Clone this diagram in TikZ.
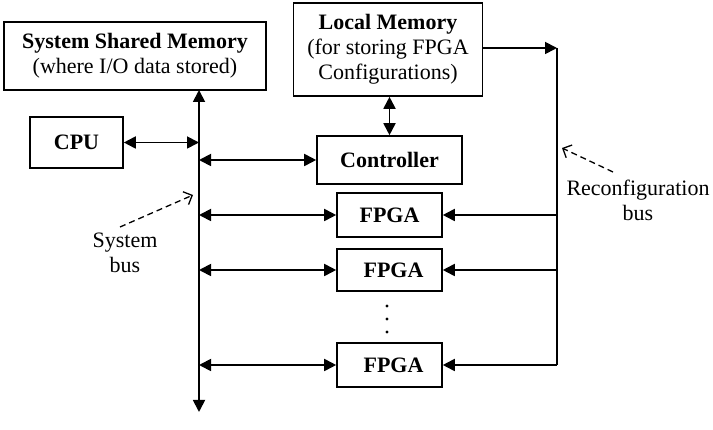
\documentclass[tikz,border=0pt]{standalone}
\usepackage{fontspec}
\setmainfont{Liberation Serif}
\usetikzlibrary{arrows.meta}
\begin{document}
\begin{tikzpicture}[x=1pt,y=-1pt,
  box/.style={draw, line width=1.6pt, inner sep=0pt, align=center,
    font=\fontsize{22}{25}\selectfont},
  lbl/.style={align=center, font=\fontsize{22}{25}\selectfont},
  conn/.style={line width=1.8pt},
  bi/.style={conn, {Triangle[length=12pt,width=12pt]}-{Triangle[length=12pt,width=12pt]}},
  uni/.style={conn, -{Triangle[length=12pt,width=12pt]}},
  note/.style={line width=1.3pt, dashed, dash pattern=on 6pt off 4pt, -{Straight Barb[length=7pt,width=14pt]}}
]
\useasboundingbox (0,0) rectangle (713,430);

\node[box, minimum width=262pt, minimum height=68pt] (ssm) at (135,56)
  {\textbf{System Shared Memory}\\(where I/O data stored)};
\node[box, minimum width=189pt, minimum height=93pt] (lm) at (388,49.5)
  {\textbf{Local Memory}\\(for storing FPGA\\Configurations)};
\node[box, minimum width=93pt, minimum height=51pt] (cpu) at (76.5,142.5) {\textbf{CPU}};
\node[box, minimum width=145pt, minimum height=48pt] (ctrl) at (389.5,160) {\textbf{Controller}};
\node[box, minimum width=105pt, minimum height=44pt] (f1) at (389.5,215) {\textbf{FPGA}};
\node[box, minimum width=105pt, minimum height=42pt] (f2) at (389.5,270) {\hspace{8pt}\textbf{FPGA}};
\node[box, minimum width=105pt, minimum height=44pt] (f3) at (389.5,365) {\hspace{8pt}\textbf{FPGA}};

% system bus
\coordinate (bustop) at (199,90);
\coordinate (busbot) at (199,412);
\draw[bi] (bustop) -- (busbot);
\draw[bi] (cpu.east) -- (cpu.east -| bustop);
\draw[bi] (ctrl.west -| bustop) -- (ctrl.west);
\draw[bi] (f1.west -| bustop) -- (f1.west);
\draw[bi] (f2.west -| bustop) -- (f2.west);
\draw[bi] (f3.west -| bustop) -- (f3.west);

% local memory to controller
\draw[bi] (ctrl.north |- lm.south) -- (ctrl.north);

% reconfiguration bus
\coordinate (rtop) at (557,48);
\coordinate (rbot) at (557,365);
\draw[uni] (lm.east |- rtop) -- (rtop);
\draw[conn] (rtop) -- (rbot);
\draw[uni] (f1.east -| rtop) -- (f1.east);
\draw[uni] (f2.east -| rtop) -- (f2.east);
\draw[uni] (rbot) -- (f3.east);

% dots
\fill (387,306) circle (1.6pt);
\fill (387,319) circle (1.6pt);
\fill (387,332) circle (1.6pt);

% labels
\node[lbl] (rlbl) at (638,200) {Reconfiguration\\bus};
\node[lbl] (slbl) at (125,253) {System\\bus};
\coordinate (rnote) at (562,148);
\coordinate (snote) at (193,195);
\draw[note] (613,172) -- (rnote);
\draw[note] (120,227) -- (snote);
\end{tikzpicture}
\end{document}
